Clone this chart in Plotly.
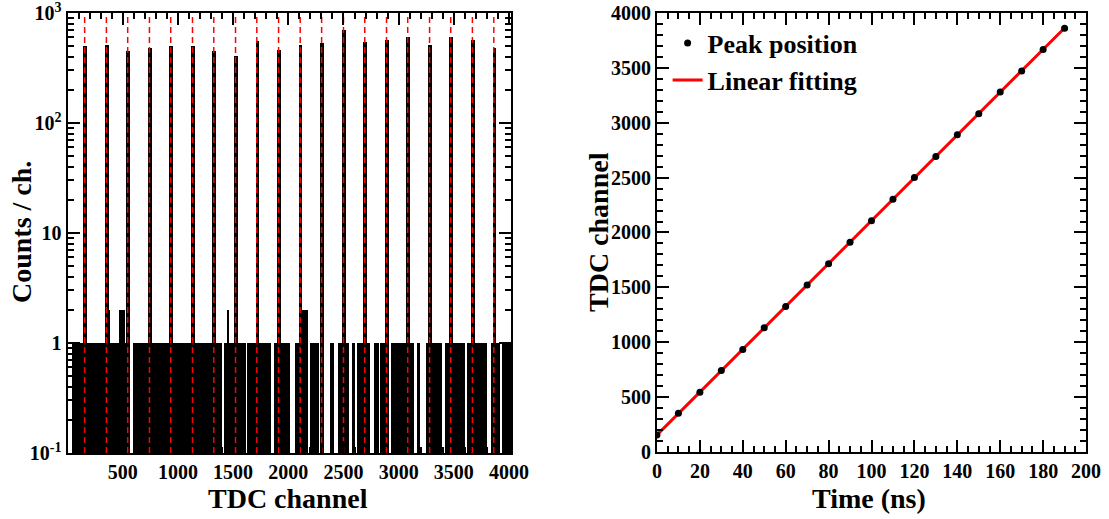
import numpy as np
import plotly.graph_objects as go

# ---- TDC spectrum (left) -------------------------------------------------
# fitted peak centres of the calibration pulses, TDC channel
peak_channel = [155, 352, 545, 742, 935, 1132, 1325, 1522, 1715, 1912,
                2108, 2302, 2500, 2693, 2890, 3082, 3280, 3472, 3668, 3862]
# counts in the highest bin of each peak
peak_counts = [501, 512, 454, 481, 501, 501, 454, 410, 553, 461,
               515, 537, 705, 541, 564, 601, 515, 601, 564, 484]
PEAK_WIDTH = 32  # channels

# random-coincidence background: channel ranges holding one count per channel
single_count_ranges = [
    (36, 557), (589, 1393), (1409, 1611), (1626, 1837), (1866, 2013),
    (2061, 2169), (2192, 2275), (2287, 2321), (2378, 2414), (2444, 2543),
    (2574, 2604), (2620, 2740), (2770, 2815), (2831, 2906), (2930, 3132),
    (3163, 3187), (3247, 3389), (3419, 3600), (3616, 3797), (3833, 3918),
    (3933, 4014),
]
# ranges holding two counts per channel
double_count_ranges = [(362, 376), (466, 512), (1436, 1460), (2100, 2170)]

# ---- calibration (right) -------------------------------------------------
delay_ns = [0, 10, 20, 30, 40, 50, 60, 70, 80, 90,
            100, 110, 120, 130, 140, 150, 160, 170, 180, 190]

log_ticks = [0.1, 1, 10, 100, 1000]
log_tick_text = ["10<sup>-1</sup>", "1", "10", "10<sup>2</sup>", "10<sup>3</sup>"]
log_minor = [m * 10.0 ** e for e in range(-1, 3) for m in range(2, 10)]

FONT = "Liberation Serif"
BLACK = "#000000"
RED = "#ff0000"


def range_bars(ranges, level):
    centres = [(a + b) / 2 for a, b in ranges]
    widths = [b - a for a, b in ranges]
    return centres, widths, [level] * len(ranges)


fig = go.Figure()

cx, wx, cy = range_bars(single_count_ranges, 1)
fig.add_trace(go.Bar(x=cx, y=cy, width=wx, base=0.01, marker=dict(color=BLACK, line=dict(width=0)),
                     xaxis="x", yaxis="y", showlegend=False))
cx, wx, cy = range_bars(double_count_ranges, 2)
fig.add_trace(go.Bar(x=cx, y=cy, width=wx, base=0.01, marker=dict(color=BLACK, line=dict(width=0)),
                     xaxis="x", yaxis="y", showlegend=False))
fig.add_trace(go.Bar(x=peak_channel, y=peak_counts, width=[PEAK_WIDTH] * len(peak_channel), base=0.01,
                     marker=dict(color=BLACK, line=dict(width=0)),
                     xaxis="x", yaxis="y", showlegend=False))

# dashed markers at the fitted peak centres
vx, vy = [], []
for c in peak_channel:
    vx += [c, c, None]
    vy += [0.1, 1000, None]
fig.add_trace(go.Scatter(x=vx, y=vy, mode="lines", line=dict(color=RED, width=1.5, dash="6px,4px"),
                         xaxis="x", yaxis="y", showlegend=False, hoverinfo="skip"))

# linear fit of peak position vs delay
slope, intercept = np.polyfit(delay_ns, peak_channel, 1)
fit_t = np.array([delay_ns[0], delay_ns[-1]], dtype=float)
fig.add_trace(go.Scatter(x=fit_t, y=intercept + slope * fit_t, mode="lines",
                         line=dict(color=RED, width=3), name="Linear fitting",
                         legendrank=2, xaxis="x2", yaxis="y2"))
fig.add_trace(go.Scatter(x=delay_ns, y=peak_channel, mode="markers",
                         marker=dict(color=BLACK, size=7), name="Peak position",
                         legendrank=1, xaxis="x2", yaxis="y2"))

axis_common = dict(
    showline=True, linewidth=2, linecolor=BLACK, mirror="allticks",
    ticks="inside", ticklen=12, tickwidth=2, tickcolor=BLACK,
    showgrid=False, zeroline=False, automargin=False, ticklabeloverflow="allow",
    tickfont=dict(family=FONT, size=20, color=BLACK, weight="bold"),
)
minor_common = dict(ticks="inside", ticklen=6, tickwidth=1.5, tickcolor=BLACK)

fig.update_layout(
    width=1109, height=519,
    margin=dict(l=0, r=0, t=0, b=0, pad=0, autoexpand=False),
    paper_bgcolor="white", plot_bgcolor="white",
    barmode="overlay", bargap=0,
    font=dict(family=FONT, color=BLACK, weight="bold"),
    xaxis=dict(axis_common, domain=[0.0609, 0.4608], range=[0, 4018], anchor="y",
               tickmode="array", tickvals=[500, 1000, 1500, 2000, 2500, 3000, 3500, 4000],
               minor=dict(minor_common, tick0=0, dtick=100)),
    yaxis=dict(axis_common, domain=[0.1272, 0.975], type="log", range=[-1, 3], anchor="x",
               tickmode="array", tickvals=log_ticks, ticktext=log_tick_text,
               minor=dict(minor_common, tickmode="array", tickvals=log_minor)),
    xaxis2=dict(axis_common, domain=[0.5924, 0.9793], range=[0, 200], anchor="y2",
                tick0=0, dtick=20,
                minor=dict(minor_common, tick0=0, dtick=5)),
    yaxis2=dict(axis_common, domain=[0.1291, 0.975], range=[0, 4000], anchor="x2",
                tick0=0, dtick=500,
                minor=dict(minor_common, tick0=0, dtick=100)),
    legend=dict(x=0.602, y=0.962, xanchor="left", yanchor="top",
                bgcolor="rgba(0,0,0,0)", borderwidth=0,
                font=dict(family=FONT, size=26, color=BLACK, weight="bold")),
    showlegend=True,
)

title_font = dict(family=FONT, size=28, color=BLACK, weight="bold")
fig.add_annotation(text="Counts / ch.", x=21 / 1109, y=1 - 232 / 519, xref="paper", yref="paper",
                   textangle=-90, showarrow=False, font=title_font, xanchor="center", yanchor="middle")
fig.add_annotation(text="TDC channel", x=288 / 1109, y=1 - 498 / 519, xref="paper", yref="paper",
                   showarrow=False, font=title_font, xanchor="center", yanchor="middle")
fig.add_annotation(text="TDC channel", x=598 / 1109, y=1 - 232 / 519, xref="paper", yref="paper",
                   textangle=-90, showarrow=False, font=title_font, xanchor="center", yanchor="middle")
fig.add_annotation(text="Time (ns)", x=869 / 1109, y=1 - 498 / 519, xref="paper", yref="paper",
                   showarrow=False, font=title_font, xanchor="center", yanchor="middle")

fig.write_html("out.html")
